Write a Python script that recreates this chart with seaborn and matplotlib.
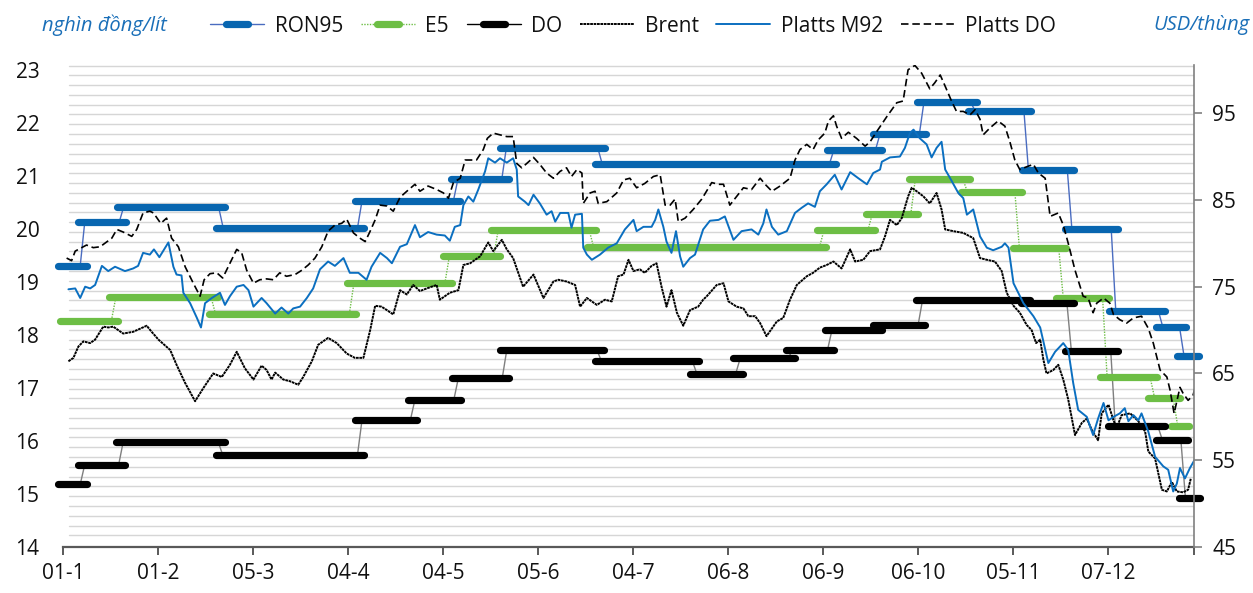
import numpy as np
import pandas as pd
import matplotlib
matplotlib.use("Agg")
import matplotlib.pyplot as plt
import seaborn as sns
from matplotlib.lines import Line2D
from matplotlib.markers import MarkerStyle

# ---------------- data ----------------
tick_pos = [0, 21, 42, 63, 84, 105, 126, 147, 168, 189, 210, 231]
tick_labels = ["01-1", "01-2", "05-3", "04-4", "04-5", "05-6", "04-7",
               "06-8", "06-9", "06-10", "05-11", "07-12"]

# retail prices (nghìn đồng/lít): change positions (trading-day index) and prices
ron95_change = [0, 4.3, 12.9, 34.9, 65.6, 86.8, 97.5, 118.7, 169.9, 180.1, 189.8,
                201.1, 212.9, 222.5, 232.2, 242.6, 247.3]
ron95_end = 250.2
ron95_price = [19.30, 20.12, 20.41, 20.02, 20.53, 20.94, 21.53, 21.22, 21.49, 21.79,
               22.39, 22.23, 21.11, 20.00, 18.46, 18.15, 17.60]

e5_change = [0.4, 11.2, 33.2, 63.8, 84.9, 95.7, 116.8, 167.7, 178.4, 187.9, 199.4,
             210.9, 220.6, 230.3, 240.8, 245.9]
e5_end = 248.0
e5_price = [18.27, 18.72, 18.40, 18.97, 19.48, 19.98, 19.65, 19.97, 20.28, 20.94,
            20.70, 19.64, 18.69, 17.20, 16.81, 16.28]

do_change = [0, 4.3, 12.8, 34.8, 65.6, 77.3, 86.9, 97.6, 118.5, 139.6, 149.2, 160.8,
             169.5, 180.1, 189.5, 212.8, 222.4, 232.1, 242.5, 247.6]
do_end = 250.4
do_price = [15.18, 15.55, 15.98, 15.74, 16.40, 16.78, 17.19, 17.72, 17.51, 17.27,
            17.56, 17.72, 18.10, 18.18, 18.66, 18.61, 17.69, 16.28, 16.02, 14.93]

# world prices (USD/thùng)
pdo_x = [0.8, 1.9, 2.7, 4.1, 5.2, 6.7, 8.2, 10.8, 11.9, 13.3, 15.2, 16.3, 17.7, 19.2, 20.0,
         21.6, 22.9, 24.0, 25.5, 27.0, 28.8, 30.3, 31.2, 32.5, 34.0, 35.3, 36.9, 38.4, 39.5,
         40.6, 42.1, 43.5, 45.0, 46.5, 47.9, 49.4, 51.3, 52.8, 54.2, 55.7, 57.2, 58.6, 60.1,
         61.6, 62.7, 64.2, 65.6, 66.8, 67.9, 69.0, 70.1, 71.6, 73.0, 74.5, 76.0, 77.8, 78.9,
         80.7, 82.6, 84.1, 85.2, 86.3, 87.8, 88.9, 90.0, 91.4, 92.9, 93.8, 95.1, 96.6, 98.1,
         99.5, 100.3, 101.4, 102.5, 104.0, 105.4, 106.9, 108.4, 109.9, 111.3, 112.4, 113.6,
         114.7, 115.0, 116.5, 117.6, 118.3, 120.2, 122.4, 123.9, 125.3, 126.8, 128.6, 130.5,
         132.0, 133.1, 134.2, 135.3, 136.0, 137.5, 139.3, 141.2, 143.4, 144.9, 146.0, 147.4,
         148.9, 150.4, 152.2, 154.1, 155.2, 156.7, 158.5, 160.7, 161.8, 162.9, 164.4, 165.8,
         166.9, 168.4, 169.2, 170.3, 171.0, 172.1, 173.6, 175.4, 177.3, 178.4, 179.9, 182.1,
         184.3, 185.7, 186.8, 188.3, 189.8, 191.6, 192.7, 193.9, 195.0, 196.4, 197.5, 199.0,
         200.5, 201.6, 202.7, 203.4, 204.9, 206.7, 208.2, 209.3, 210.4, 211.5, 213.4, 214.5,
         215.6, 217.1, 218.2, 220.0, 221.1, 222.2, 223.7, 225.5, 226.6, 227.7, 228.5, 230.0,
         231.4, 232.2, 233.6, 235.1, 236.6, 238.4, 239.9, 241.0, 242.5, 244.0, 244.7, 245.6,
         246.9, 247.6, 248.7, 249.8, 250.2]
pdo_y = [78.3, 78.0, 79.1, 79.5, 79.8, 79.5, 79.6, 80.6, 81.6, 81.3, 80.8, 81.6, 83.5, 83.7, 83.5,
         82.3, 82.9, 80.6, 79.6, 77.3, 75.4, 73.9, 75.8, 76.5, 76.6, 76.0, 77.7, 79.3, 78.9,
         76.9, 75.4, 75.8, 75.9, 75.8, 76.6, 76.2, 76.4, 76.9, 77.5, 78.3, 79.6, 81.4, 82.1,
         82.3, 82.8, 81.2, 80.6, 80.2, 81.4, 82.7, 84.4, 84.3, 83.7, 85.3, 86.0, 86.8, 86.0,
         86.6, 86.2, 85.8, 85.2, 87.0, 87.5, 89.6, 89.6, 89.6, 90.8, 92.1, 92.7, 92.5, 92.3,
         92.3, 89.2, 88.7, 89.2, 89.9, 89.1, 88.1, 87.5, 88.3, 88.7, 87.7, 88.5,
         88.1, 84.6, 85.8, 86.0, 84.6, 84.8, 85.8, 87.3, 87.5, 86.4, 86.9, 87.7,
         87.9, 84.4, 84.4, 85.1, 82.5, 82.9, 83.9, 85.1, 87.0, 86.8, 86.8, 84.4,
         85.4, 86.4, 86.2, 87.5, 86.8, 86.0, 86.6, 87.5, 89.6, 90.8, 91.4, 90.8,
         91.9, 92.7, 94.1, 94.7, 93.5, 92.1, 92.8, 92.1, 91.2, 91.7, 92.9, 94.6,
         96.2, 96.4, 100.0, 100.5, 99.6, 97.8, 98.5, 99.4, 98.1, 96.4, 95.2, 95.2,
         94.8, 95.4, 94.3, 92.5, 93.3, 94.1, 93.5, 91.7, 89.6, 88.5, 88.9, 89.1,
         88.1, 87.5, 83.1, 83.5, 82.1, 80.0, 76.9, 73.9, 73.7, 72.0, 73.1, 73.7,
         73.1, 71.8, 71.2, 70.8, 71.4, 71.6, 70.2, 68.5, 65.4, 64.6, 63.1, 60.4,
         63.4, 62.7, 61.9, 62.5, 63.3]

m92_x = [1.2, 2.7, 3.8, 4.9, 6.0, 7.1, 8.6, 10.0, 11.5, 13.7, 15.5, 16.6, 17.7, 19.2, 20.1,
         21.3, 23.3, 24.4, 25.1, 26.2, 26.6, 28.1, 29.6, 30.5, 31.4, 32.9, 34.7, 35.8, 36.9,
         38.4, 39.9, 41.0, 42.1, 43.9, 45.0, 46.9, 48.3, 49.8, 50.9, 52.4, 53.9, 55.3, 56.8,
         58.6, 60.1, 62.0, 63.4, 65.3, 67.1, 68.2, 70.1, 71.6, 72.7, 74.5, 76.0, 77.8, 78.9,
         80.7, 82.6, 84.4, 85.5, 86.6, 87.8, 88.5, 89.6, 90.7, 91.8, 93.3, 94.0, 95.5, 96.6,
         98.1, 99.5, 100.3, 100.6, 102.1, 102.9, 104.0, 105.4, 106.9, 108.0, 108.8, 109.9,
         111.7, 112.4, 113.2, 114.7, 115.0, 115.8, 116.9, 118.7, 120.5, 122.4, 124.2, 126.1,
         126.8, 128.3, 130.1, 130.9, 131.6, 132.7, 133.4, 134.5, 135.5, 136.4, 137.1, 138.6,
         139.7, 141.5, 143.0, 144.9, 146.3, 148.2, 150.0, 152.2, 153.7, 154.8, 155.5, 156.7,
         158.1, 160.0, 161.8, 163.3, 164.7, 166.2, 167.3, 168.8, 170.6, 172.1, 174.0, 175.8,
         177.7, 179.1, 180.6, 181.0, 182.8, 185.0, 186.1, 187.2, 188.0, 189.4, 190.9, 192.0,
         193.1, 194.2, 195.0, 196.1, 197.9, 199.0, 199.8, 201.2, 202.7, 204.2, 205.6, 207.5,
         208.2, 209.0, 210.1, 212.3, 214.5, 216.0, 217.8, 219.3, 221.1, 222.2, 223.3, 224.4,
         226.3, 227.7, 228.8, 230.0, 231.1, 232.2, 233.6, 234.7, 235.5, 236.6, 237.7, 238.4,
         239.9, 241.4, 243.2, 244.3, 245.4, 246.2, 246.9, 248.0, 249.1, 250.2]
m92_y = [74.7, 74.8, 73.7, 75.0, 74.8, 75.2, 77.4, 76.8, 77.3, 76.8, 77.1, 77.4, 78.9, 78.7, 79.3,
         78.4, 80.1, 77.3, 76.4, 76.3, 74.3, 73.1, 71.4, 70.3, 73.1, 73.7, 74.3, 72.9, 73.9,
         75.0, 75.2, 74.6, 72.7, 73.7, 73.1, 71.9, 72.6, 71.9, 72.5, 72.7, 73.7, 74.8, 77.0,
         77.9, 77.4, 78.3, 76.6, 76.6, 75.8, 77.3, 78.9, 78.3, 77.7, 79.6, 79.9, 82.1, 80.7,
         81.3, 81.0, 80.9, 80.3, 81.9, 82.1, 84.4, 85.4, 84.8, 86.2, 88.3, 89.8, 89.3, 89.8,
         89.3, 89.8, 88.5, 85.4, 84.8, 84.4, 85.6, 84.6, 83.3, 83.7, 82.5, 83.5,
         83.5, 81.8, 83.3, 83.4, 79.5, 78.7, 78.1, 78.7, 79.5, 80.0, 81.6, 82.7,
         81.4, 81.9, 81.9, 82.7, 83.9, 81.9, 80.2, 78.9, 81.4, 78.5, 77.3, 78.3,
         78.7, 81.6, 82.6, 82.7, 83.1, 80.4, 81.4, 81.6, 81.0, 82.3, 83.9, 81.9,
         81.0, 81.4, 83.5, 84.1, 84.6, 84.2, 86.0, 86.8, 87.9, 86.2, 88.2, 87.5,
         86.8, 88.1, 88.5, 89.4, 89.9, 90.0, 91.0, 92.7, 93.1, 92.1, 91.4, 89.9,
         91.0, 91.7, 88.5, 87.5, 85.8, 85.2, 83.3, 83.9, 80.8, 79.5, 79.2, 79.6,
         80.0, 79.5, 75.4, 73.1, 71.6, 70.3, 66.2, 67.5, 68.5, 67.7, 63.9, 60.8,
         60.0, 57.9, 59.8, 61.6, 59.6, 60.0, 60.4, 61.0, 59.5, 60.2, 59.6, 60.4,
         58.3, 55.4, 54.3, 53.9, 51.4, 52.3, 54.1, 52.9, 54.1, 55.1]

brent_x = [1.2, 2.3, 3.4, 4.5, 6.0, 7.1, 8.9, 10.0, 11.1, 13.3, 15.5, 18.5, 19.6, 21.1, 23.7,
           25.1, 27.0, 29.2, 31.0, 33.2, 35.1, 36.9, 38.4, 40.2, 42.1, 43.9, 45.0, 46.1, 46.9,
           48.7, 50.2, 52.0, 53.1, 55.0, 56.4, 58.6, 60.5, 62.7, 64.5, 66.4, 67.9, 69.0, 70.4,
           71.6, 73.0, 74.5, 76.0, 77.4, 78.9, 80.4, 82.6, 83.3, 85.5, 87.4, 88.5, 90.0, 92.2,
           94.0, 95.1, 97.0, 98.1, 99.5, 101.7, 104.0, 106.2, 108.4, 109.5, 111.3, 113.2, 114.3,
           115.8, 118.0, 119.8, 121.3, 122.7, 123.9, 125.0, 126.1, 127.5, 128.6, 130.1, 131.2,
           132.3, 133.4, 134.5, 135.7, 137.1, 138.6, 140.4, 141.5, 142.3, 144.5, 146.0, 147.1,
           148.9, 150.4, 151.5, 153.0, 154.1, 155.5, 157.8, 159.2, 160.7, 162.2, 164.4, 165.8,
           167.3, 168.8, 170.3, 172.1, 174.0, 175.1, 176.9, 178.4, 180.6, 181.7, 182.8, 184.3,
           185.4, 186.8, 187.6, 188.7, 190.2, 191.6, 193.1, 194.2, 195.0, 196.8, 199.0, 201.2,
           202.7, 204.2, 206.0, 207.5, 208.6, 210.1, 211.5, 213.0, 214.1, 215.1, 216.0, 216.7,
           217.4, 218.9, 220.0, 221.1, 222.2, 223.7, 225.2, 226.3, 227.4, 228.8, 229.6, 231.1,
           232.2, 232.9, 234.0, 235.9, 237.7, 239.2, 239.9, 241.4, 242.9, 244.0, 245.1, 246.2,
           247.6, 248.7, 249.3]
brent_y = [66.4, 66.8, 68.1, 68.7, 68.5, 68.9, 70.4, 70.3, 70.4, 69.6, 69.8, 70.5, 69.8, 68.9, 67.7,
           66.0, 63.9, 61.8, 63.3, 65.0, 64.6, 66.0, 67.5, 65.6, 64.3, 65.9, 65.4, 64.3, 65.1,
           64.3, 64.1, 63.7, 64.6, 66.4, 68.3, 69.1, 68.5, 67.3, 66.8, 66.8, 70.0, 72.8, 72.7,
           72.3, 71.8, 74.6, 74.1, 75.2, 74.5, 74.8, 75.2, 73.5, 74.3, 74.6, 77.5, 77.7, 78.5,
           80.1, 79.1, 80.4, 79.3, 78.3, 75.0, 76.4, 73.7, 75.6, 75.8, 75.6, 75.2, 72.7,
           73.7, 72.9, 73.5, 73.3, 76.2, 76.4, 78.1, 76.8, 77.0, 76.6, 77.4, 77.7,
           75.0, 72.7, 74.6, 72.0, 70.5, 72.3, 72.7, 73.5, 73.9, 75.2, 75.4, 73.3,
           72.7, 72.5, 71.6, 71.6, 70.8, 69.3, 71.0, 71.4, 73.5, 75.2, 76.2, 76.6,
           77.2, 77.5, 77.9, 77.1, 79.3, 77.9, 78.1, 79.1, 79.3, 80.8, 82.7, 82.1,
           82.9, 85.4, 86.4, 86.0, 85.4, 84.6, 85.8, 83.9, 81.6, 81.4, 81.2, 80.6,
           78.3, 78.1, 77.9, 76.8, 74.3, 72.8, 72.0, 70.6, 70.0, 68.5, 68.9, 66.6,
           65.0, 65.4, 66.0, 64.3, 62.0, 57.9, 59.3, 59.8, 58.5, 57.3, 60.4, 61.4,
           59.6, 58.7, 60.2, 60.4, 59.5, 58.3, 56.0, 55.2, 51.6, 51.4, 52.5, 51.4,
           51.3, 51.6, 52.9]

left_ticks = list(range(14, 24))
right_ticks = [45, 55, 65, 75, 85, 95]

# ---------------- style ----------------
C_RON = "#0866b0"
C_RON_THIN = "#4a6cc0"
C_E5 = "#6dbe45"
C_DO = "#000000"
C_DO_THIN = "#7f7f7f"
C_M92 = "#0b6fc0"
C_TITLE = "#1a6fb8"
C_AXIS = "#595959"
C_TEXT = "#111111"

sns.set_theme(style="white")
plt.rcParams["font.family"] = ["Open Sans", "DejaVu Sans"]
plt.rcParams["text.color"] = C_TEXT

W, H = 1253, 593
fig = plt.figure(figsize=(W / 100, H / 100), dpi=100)
ax = fig.add_axes([63 / W, 1 - 547 / H, (1194 - 63) / W, (547 - 65) / H])
ax.set_xlim(0, 250)
ax.set_ylim(14, 23.09)
ax2 = ax.twinx()
ax2.set_ylim(45, 45 + 9.09 * 55 / 9)

# background horizontal lines
for lv in np.linspace(14.22, 23.08, 49):
    ax.plot([1.3, 250], [lv, lv], color="#d6d6d6", lw=1.0, zorder=0)

def draw_steps(changes, end, prices, color, thin_color, thin_ls, ext=1.0, h=0.5):
    bounds = list(changes[1:]) + [end]
    for k in range(1, len(prices)):
        ax.plot([changes[k] - h, changes[k] + h], [prices[k - 1], prices[k]],
                color=thin_color, lw=1.0, ls=thin_ls, clip_on=False, zorder=2)
    for k, p in enumerate(prices):
        ax.plot([changes[k] - ext, bounds[k] + ext], [p, p], color=color, lw=5.2,
                solid_capstyle="round", clip_on=False, zorder=3)

draw_steps(ron95_change, ron95_end, ron95_price, C_RON, C_RON_THIN, "-")
draw_steps(e5_change, e5_end, e5_price, C_E5, C_E5, (0, (1, 1)))
draw_steps(do_change, do_end, do_price, C_DO, C_DO_THIN, "-")

brent_ls = (0, (1.4, 0.35))
pdo_ls = (0, (4.5, 2.3))
sns.lineplot(x=brent_x, y=brent_y, ax=ax2, color="black", lw=1.4, linestyle=brent_ls)
sns.lineplot(x=m92_x, y=m92_y, ax=ax2, color=C_M92, lw=1.4)
sns.lineplot(x=pdo_x, y=pdo_y, ax=ax2, color="black", lw=1.2, linestyle=pdo_ls)

# axes styling
for a in (ax, ax2):
    for s in ("top", "left"):
        a.spines[s].set_visible(False)
    a.grid(False)
ax.spines["right"].set_visible(False)
ax2.spines["bottom"].set_visible(False)
ax.spines["bottom"].set_color(C_AXIS)
ax.spines["bottom"].set_linewidth(1.6)
ax2.spines["right"].set_color("#808080")
ax2.spines["right"].set_linewidth(1.2)

ax.set_xticks(tick_pos + [250])
ax.set_xticklabels(tick_labels + [""])
ax.tick_params(axis="x", direction="out", length=5.5, width=1.4, color=C_AXIS,
               labelsize=15, labelcolor=C_TEXT, pad=6, bottom=True)
ax.set_yticks(left_ticks)
ax.set_yticklabels([str(v) for v in left_ticks])
ax.tick_params(axis="y", length=0, labelsize=15, labelcolor=C_TEXT, pad=17, left=True)
ax2.set_yticks(right_ticks)
ax2.set_yticklabels([str(v) for v in right_ticks])
ax2.tick_params(axis="y", direction="out", length=6, width=1.2, color="#808080",
                labelsize=15, labelcolor=C_TEXT, pad=7, right=True)
ax.set_xlabel("")
ax.set_ylabel("")
ax2.set_xlabel("")
ax2.set_ylabel("")

# titles
fig.text(42 / W, 1 - 25 / H, "nghìn đồng/lít", color=C_TITLE, fontsize=14.5,
         style="italic", ha="left", va="center")
fig.text(1250 / W, 1 - 25 / H, "USD/thùng", color=C_TITLE, fontsize=14.5,
         style="italic", ha="right", va="center")

# legend
bar = MarkerStyle("_", capstyle="round")
handles = [
    Line2D([], [], color=C_RON_THIN, lw=1.0, marker=bar, ms=16, mew=5.2, mec=C_RON),
    Line2D([], [], color=C_E5, lw=1.0, ls=(0, (1, 1)), marker=bar, ms=16, mew=5.2, mec=C_E5),
    Line2D([], [], color="black", lw=1.0, marker=bar, ms=16, mew=5.2, mec="black"),
    Line2D([], [], color="black", lw=1.4, ls=brent_ls),
    Line2D([], [], color=C_M92, lw=1.4),
    Line2D([], [], color="black", lw=1.2, ls=pdo_ls),
]
labels = ["RON95", "E5", "DO", "Brent", "Platts M92", "Platts DO"]
fig.legend(handles, labels, loc="center", bbox_to_anchor=(633 / W, 1 - 26 / H),
           ncol=6, frameon=False, fontsize=15, handlelength=2.6, handletextpad=0.5,
           columnspacing=0.85, numpoints=1, labelcolor=C_TEXT)

fig.savefig("out.png", dpi=100)
